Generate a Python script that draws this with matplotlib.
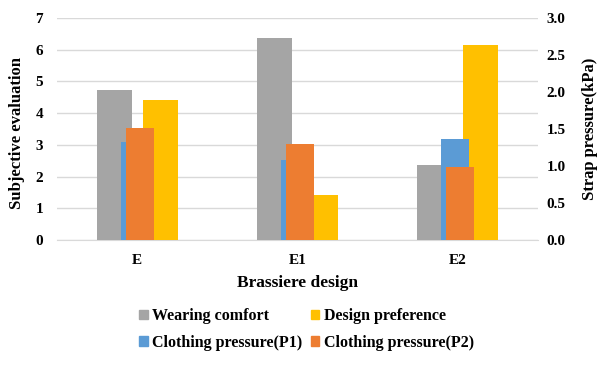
import numpy as np
import matplotlib
matplotlib.use('Agg')
import matplotlib.pyplot as plt
from matplotlib.patches import Patch

plt.rcParams['font.family'] = ['Liberation Serif', 'DejaVu Serif']
plt.rcParams['font.weight'] = 'bold'

# Data
designs = ['E', 'E1', 'E2']
wearing_comfort = [4.74, 6.36, 2.37]       # left axis
design_preference = [4.42, 1.42, 6.16]     # left axis
pressure_p1 = [1.32, 1.08, 1.36]           # right axis, kPa
pressure_p2 = [1.51, 1.30, 0.985]          # right axis, kPa

c_gray = '#A5A5A5'
c_yellow = '#FFC000'
c_blue = '#5B9BD5'
c_orange = '#ED7D31'

fig = plt.figure(figsize=(6.07, 3.66), dpi=100)
ax = fig.add_axes([57 / 607, (366 - 240) / 366, 481 / 607, 222 / 366])
ax2 = ax.twinx()

x = np.arange(len(designs))
w1 = 0.219
ax.bar(x - 0.144, wearing_comfort, w1, color=c_gray, zorder=3)
ax.bar(x + 0.144, design_preference, w1, color=c_yellow, zorder=3)

w2 = 0.175
ax2.bar(x - 0.016, pressure_p1, w2, color=c_blue, zorder=3)
ax2.bar(x + 0.016, pressure_p2, w2, color=c_orange, zorder=3)

ax.set_xlim(-0.5, 2.5)
ax.set_ylim(0, 7)
ax2.set_ylim(0, 3.0)
ax.set_yticks(range(0, 8))
ax2.set_yticks(np.arange(0, 3.01, 0.5))
ax2.set_yticklabels([f'{v:.1f}' for v in np.arange(0, 3.01, 0.5)])
ax.set_xticks(x)
ax.set_xticklabels(designs)

ax.grid(axis='y', color='#D9D9D9', linewidth=1.0, zorder=0)
ax.set_axisbelow(True)
for a in (ax, ax2):
    for s in a.spines.values():
        s.set_visible(False)
    a.tick_params(length=0, labelsize=11)
ax.spines['bottom'].set_visible(True)
ax.spines['bottom'].set_color('#D9D9D9')
ax.tick_params(axis='y', pad=10)
ax2.tick_params(axis='y', pad=6)
ax.tick_params(axis='x', pad=10)

ax.set_ylabel('Subjective evaluation', fontsize=12, fontweight='bold')
ax.yaxis.set_label_coords(-0.066, 0.48)
ax2.set_ylabel('Strap pressure(kPa)', fontsize=12, fontweight='bold', labelpad=12)
ax.set_xlabel('Brassiere design', fontsize=12.5, fontweight='bold', labelpad=6)

handles = [Patch(color=c_gray, label='Wearing comfort'),
           Patch(color=c_blue, label='Clothing pressure(P1)'),
           Patch(color=c_yellow, label='Design preference'),
           Patch(color=c_orange, label='Clothing pressure(P2)')]
fig.legend(handles=handles, ncol=2, loc='center', bbox_to_anchor=(0.505, 0.1),
           frameon=False, fontsize=11.5, handlelength=0.55, handleheight=0.55,
           handletextpad=0.3, columnspacing=0.5, labelspacing=0.65)

fig.savefig('out.png', dpi=100)
